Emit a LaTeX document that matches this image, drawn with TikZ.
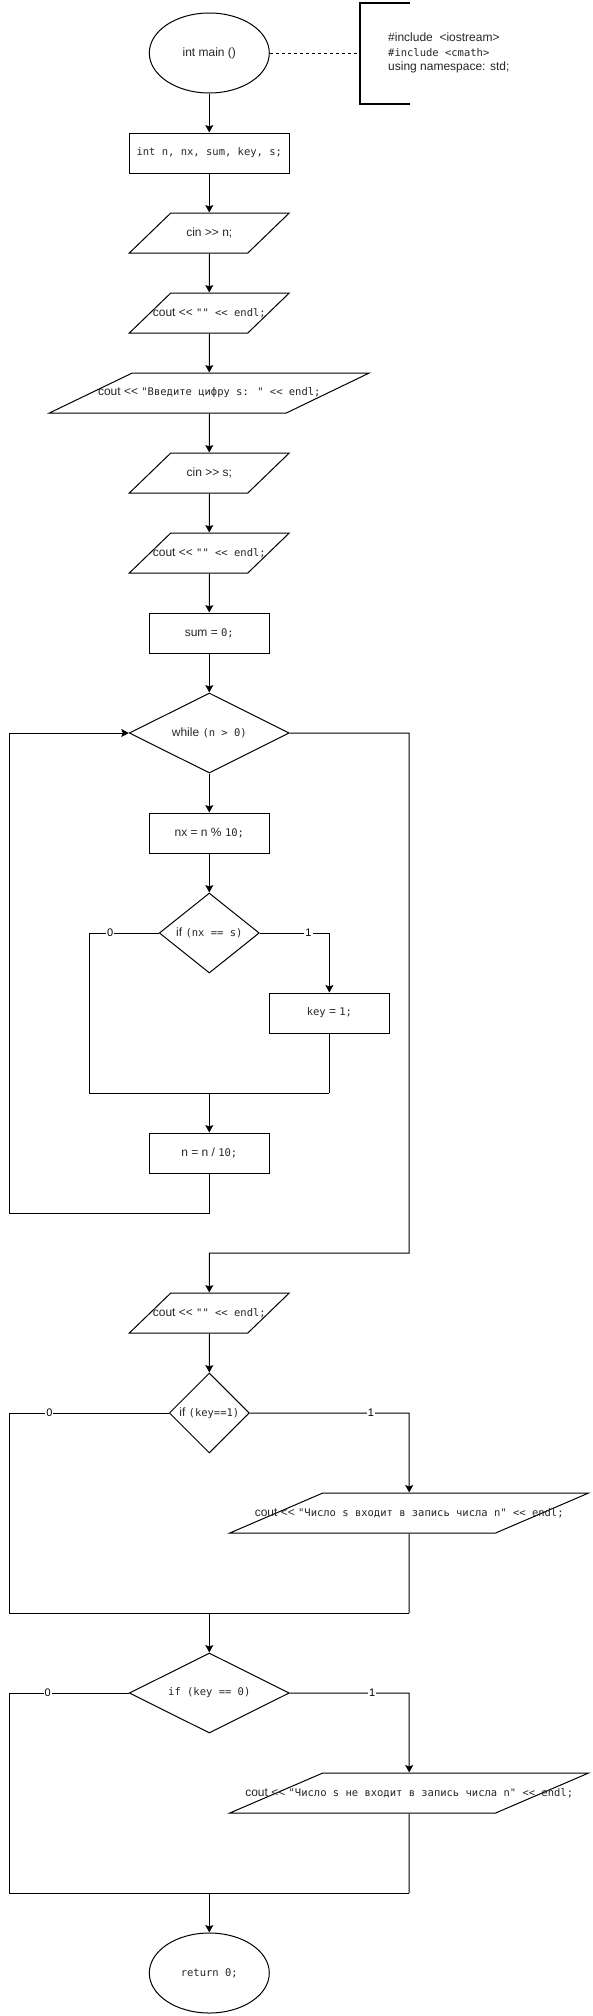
\documentclass[tikz,border=0pt]{standalone}
\usepackage{fontspec}
\setmainfont{Liberation Sans}[Ligatures=TeXOff]
\newfontfamily\monofam{DejaVu Sans Mono}
\newcommand\cmono[1]{{\monofam\fontsize{10.5}{13}\selectfont #1}}
\usetikzlibrary{shapes.geometric,arrows.meta}
\begin{document}
\begin{tikzpicture}[x=1pt,y=-1pt,
  every node/.style={text=black!85, font=\fontsize{12}{14.4}\selectfont},
  line/.style={draw=black, line width=1pt},
  arr/.style={line, -{Stealth[length=7.5pt,width=8pt,inset=1.5pt]}},
  proc/.style={rectangle, draw, line width=1pt, minimum height=40pt, inner sep=0pt},
  term/.style={ellipse, draw, line width=1pt, minimum width=120pt, minimum height=80pt, inner sep=0pt},
  io/.style={trapezium, trapezium left angle=63, trapezium right angle=117, trapezium stretches=true, draw, line width=1pt, minimum height=40pt, inner sep=0pt},
  dec/.style={diamond, draw, line width=1pt, minimum height=80pt, inner sep=0pt},
  ctext/.style={label={center:{#1}}},
  lbl/.style={fill=white, inner sep=1pt, text=black, font=\fontsize{11}{13}\selectfont}
]
\useasboundingbox (0,0) rectangle (593,2016);

% start and note
\node[term] (start) at (209.3,53) {int main ()};
\coordinate (nb) at (359.5,53);
\draw[line, dash pattern=on 3pt off 3pt] (start.east) -- (nb);
\draw[line width=2pt] (409.5,3) -- (359.5,3) -- (359.5,104) -- (409.5,104);
\node[anchor=west, align=left, inner sep=0pt, font=\fontsize{12}{14.5}\selectfont] (note) at (388,53)
  {\#include~ <iostream>\\\cmono{\#include <cmath>}\\using namespace: std;};

% main column
\node[proc, minimum width=160pt] (decl) at (209.3,153) {\cmono{int n, nx, sum, key, s;}};
\node[io, minimum width=160pt, ctext={cin >> n;}] (in1) at (209.3,233) {\phantom{x}};
\node[io, minimum width=160pt, ctext={cout << \cmono{"" << endl;}}] (out1) at (209.3,313) {\phantom{x}};
\node[io, minimum width=320pt, ctext={cout << \cmono{"Введите цифру s: " << endl;}}] (out2) at (209.3,393) {\phantom{x}};
\node[io, minimum width=160pt, ctext={cin >> s;}] (in2) at (209.3,473) {\phantom{x}};
\node[io, minimum width=160pt, ctext={cout << \cmono{"" << endl;}}] (out3) at (209.3,553) {\phantom{x}};
\node[proc, minimum width=120pt] (sum) at (209.3,633) {sum = \cmono{0;}};
\node[dec, minimum width=160pt, ctext={while \cmono{(n > 0)}}] (wh) at (209.3,733) {};
\node[proc, minimum width=120pt] (nx) at (209.3,833) {nx = n \% \cmono{10;}};
\node[dec, minimum width=100pt, ctext={if \cmono{(nx == s)}}] (if1) at (209.3,933) {};
\node[proc, minimum width=120pt] (key) at (329.4,1013) {\cmono{key} = \cmono{1;}};
\node[proc, minimum width=120pt] (ndiv) at (209.3,1153) {n = n / \cmono{10;}};
\node[io, minimum width=160pt, ctext={cout << \cmono{"" << endl;}}] (out4) at (209.3,1313) {\phantom{x}};
\node[dec, minimum width=80pt, ctext={if \cmono{(key==1)}}] (if2) at (209.3,1413) {};
\node[io, minimum width=359pt, ctext={cout << \cmono{"Число s входит в запись числа n" << endl;}}] (p1) at (409.2,1513) {\phantom{x}};
\node[dec, minimum width=160pt, ctext={\cmono{if (key == 0)}}] (if3) at (209.3,1693) {};
\node[io, minimum width=359pt, ctext={cout << \cmono{"Число s не входит в запись числа n" << endl;}}] (p2) at (409.2,1793) {\phantom{x}};
\node[term] (stop) at (209.3,1973) {\cmono{return 0;}};

% coordinates
\coordinate (m1l) at (89.3,1093);
\coordinate (m1) at (209.3,1093);
\coordinate (m1r) at (329.4,1093);
\coordinate (lb1) at (209.3,1213);
\coordinate (lb2) at (9.5,1213);
\coordinate (lb3) at (9.5,733);
\coordinate (ex1) at (409.2,733);
\coordinate (ex2) at (409.2,1253);
\coordinate (ex3) at (209.3,1253);
\coordinate (a1) at (9.5,1413);
\coordinate (a2) at (9.5,1613);
\coordinate (a3) at (409.2,1613);
\coordinate (am) at (209.3,1613);
\coordinate (a4) at (409.2,1413);
\coordinate (b1) at (9.5,1693);
\coordinate (b2) at (9.5,1893);
\coordinate (b3) at (409.2,1893);
\coordinate (bm) at (209.3,1893);
\coordinate (b4) at (409.2,1693);
\coordinate (c1) at (89.3,933);
\coordinate (c2) at (329.4,933);

% straight connectors
\draw[arr] (start) -- (decl);
\draw[arr] (decl) -- (in1);
\draw[arr] (in1) -- (out1);
\draw[arr] (out1) -- (out2);
\draw[arr] (out2) -- (in2);
\draw[arr] (in2) -- (out3);
\draw[arr] (out3) -- (sum);
\draw[arr] (sum) -- (wh);
\draw[arr] (wh) -- (nx);
\draw[arr] (nx) -- (if1);

% inner if
\draw[line] (if1.west) -- node[lbl, pos=0.70]{0} (c1) -- (m1l) -- (m1r);
\draw[arr] (if1.east) -- node[lbl, pos=0.70]{1} (c2) -- (key.north);
\draw[line] (key.south) -- (m1r);
\draw[arr] (m1) -- (ndiv.north);

% loop back
\draw[arr] (ndiv.south) -- (lb1) -- (lb2) -- (lb3) -- (wh.west);
% loop exit
\draw[arr] (wh.east) -- (ex1) -- (ex2) -- (ex3) -- (out4.north);
\draw[arr] (out4) -- (if2);

% if key==1
\draw[line] (if2.west) -- node[lbl, pos=0.75]{0} (a1) -- (a2) -- (a3);
\draw[arr] (if2.east) -- node[lbl, pos=0.76]{1} (a4) -- (p1.north);
\draw[line] (p1.south) -- (a3);
\draw[arr] (am) -- (if3.north);

% if key==0
\draw[line] (if3.west) -- node[lbl, pos=0.68]{0} (b1) -- (b2) -- (b3);
\draw[arr] (if3.east) -- node[lbl, pos=0.69]{1} (b4) -- (p2.north);
\draw[line] (p2.south) -- (b3);
\draw[arr] (bm) -- (stop.north);
\end{tikzpicture}
\end{document}
